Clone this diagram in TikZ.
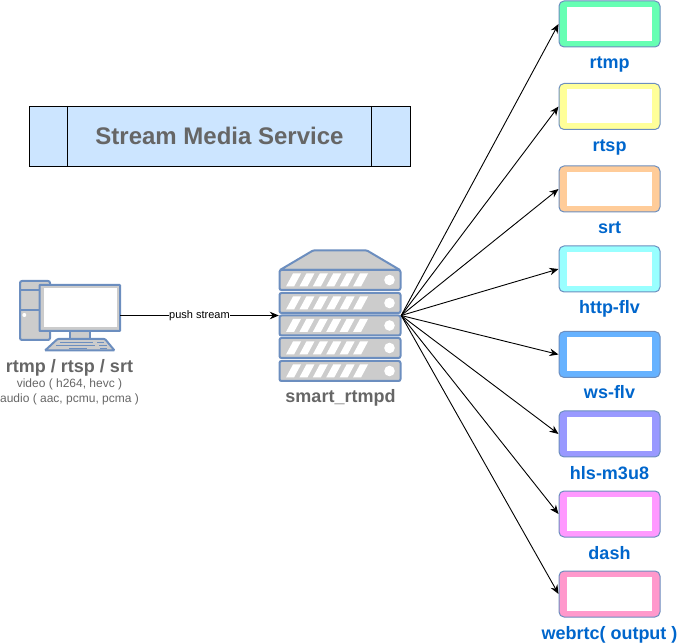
\documentclass[tikz,border=0pt]{standalone}
\usepackage{fontspec}
\setmainfont{Liberation Sans}
\usetikzlibrary{arrows.meta}
\definecolor{edgeblue}{HTML}{6C8EBF}
\definecolor{txtgray}{HTML}{666666}
\definecolor{boxgray}{HTML}{CCCCCC}
\definecolor{lblblue}{HTML}{0066CC}
\definecolor{svcblue}{HTML}{CCE5FF}
\tikzset{
  part/.style={draw=edgeblue,fill=boxgray,line width=2pt,rounded corners=2pt},
  tablet/.style={draw=edgeblue,line width=1pt,rounded corners=5pt,minimum width=101,minimum height=46,inner sep=0pt},
  screen/.style={fill=white,minimum width=85,minimum height=34,inner sep=0pt},
  outlabel/.style={font=\fontsize{18}{18}\selectfont\bfseries,text=lblblue,inner sep=0pt,anchor=base},
  graylabel/.style={font=\fontsize{18}{18}\selectfont\bfseries,text=txtgray,inner sep=0pt,anchor=base},
  smalllabel/.style={font=\fontsize{12}{14.5}\selectfont,text=txtgray,align=center,inner sep=0pt},
  link/.style={-{Stealth[length=9pt,width=7.5pt]},line width=0.9pt}
}
\begin{document}
\begin{tikzpicture}[x=1pt,y=-1pt]
  \useasboundingbox (0,0) rectangle (678,644);

  % service banner
  \node [draw,fill=svcblue,line width=0.9pt,minimum width=381,minimum height=60,inner sep=0pt,
    text=txtgray,font=\fontsize{24}{24}\selectfont\bfseries] (service) at (219.5,136) {\raisebox{-1.5pt}{Stream Media Service}};
  \draw [line width=0.9pt] (67.5,106) -- (67.5,166);
  \draw [line width=0.9pt] (371.5,106) -- (371.5,166);

  % source computer
  \node [minimum width=101,minimum height=71,inner sep=0pt] (pc) at (69.5,315.5) {};
  \draw [part] (20,281) rectangle (50,340);
  \draw [edgeblue,line width=1.8pt] (20,290) -- (39,290) (20,310) -- (39,310);
  \fill [white] (24.3,315) circle (2);
  \draw [part,rounded corners=0pt] (69.5,331) rectangle (90,339);
  \draw [part,rounded corners=0.5pt] (39.5,285) rectangle (120,331);
  \fill [white] (43.5,288.5) rectangle (116.5,327);
  \draw [part,rounded corners=1pt] (45,350.5) -- (57.5,339) -- (105,339) -- (114.5,350.5) -- cycle;
  \draw [edgeblue,line width=1.5pt] (60,342.3) -- (93,342.3) (97,342.3) -- (104,342.3)
    (56,345.5) -- (95,345.5) (99,345.5) -- (107,345.5)
    (69,348.3) -- (87,348.3) (100,348.3) -- (107,348.3);
  \node [graylabel] (pclabel) at (69.5,373) {rtmp / rtsp / srt};
  \node [smalllabel,anchor=center] (pcinfo) at (69.5,392) {video ( h264, hevc )\\audio ( aac, pcmu, pcma )};

  % server rack
  \node [minimum width=122,minimum height=131,inner sep=0pt] (srv) at (340,315.5) {};
  \draw [part,rounded corners=1pt] (280,270) -- (313,250.5) -- (367,250.5) -- (400,270) -- cycle;
  \foreach \y in {270,293,315.5,338,361}{
    \draw [part] (279.5,\y) rectangle (400.5,\y+20);
    \foreach \i in {0,...,5}
      \fill [white] (286+13.4*\i,\y+16.5) -- (294+13.4*\i,\y+16.5) -- (301+13.4*\i,\y+3.5) -- (293+13.4*\i,\y+3.5) -- cycle;
    \fill [white] (389.5,\y+10) circle (5.3);
  }
  \node [graylabel] (srvlabel) at (340.5,403) {smart\_rtmpd};

  \draw [link] (pc.east) -- node [fill=white,inner sep=0.5pt,font=\fontsize{11}{11}\selectfont] (pushlabel) {push stream} (srv.west);

  % outputs
  \foreach \name/\lbl/\col/\ty/\ly in {
    rtmp/rtmp/66FFB3/24/68.5,
    rtsp/rtsp/FFFF99/106.5/151.5,
    srt/srt/FFCC99/189/234,
    httpflv/http-flv/99FFFF/269/314,
    wsflv/ws-flv/66B2FF/354.5/399,
    hls/hls-m3u8/9999FF/434/479,
    dash/dash/FF99FF/514/559,
    webrtc/webrtc( output )/FF99CC/594/639}{
    \definecolor{tabcol}{HTML}{\col}
    \node [tablet,fill=tabcol] (\name) at (609.5,\ty) {};
    \node [screen] at (\name) {};
    \node [outlabel] (\name label) at (609.5,\ly) {\lbl};
    \draw [link] (srv.east) -- (\name.west);
  }
\end{tikzpicture}
\end{document}
